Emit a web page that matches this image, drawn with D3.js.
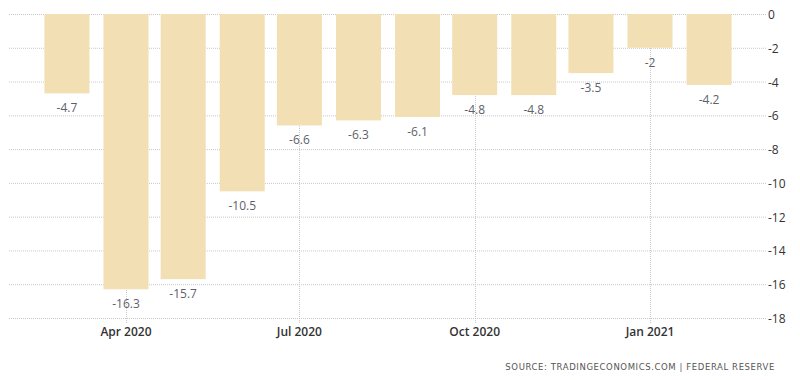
<!DOCTYPE html>
<html><head><meta charset="utf-8">
<script src="https://cdn.jsdelivr.net/npm/d3@7"></script>
<style>body{margin:0;background:#fff}svg{display:block}</style>
</head><body>
<svg id="c" width="800" height="380"></svg>
<script>
const months = ["2020-03","2020-04","2020-05","2020-06","2020-07","2020-08","2020-09","2020-10","2020-11","2020-12","2021-01","2021-02"];
const values = [-4.7,-16.3,-15.7,-10.5,-6.6,-6.3,-6.1,-4.8,-4.8,-3.5,-2,-4.2];
const xTickDates = ["2020-04","2020-07","2020-10","2021-01"];
const xTickLabels = ["Apr 2020","Jul 2020","Oct 2020","Jan 2021"];
const yTicks = [0,-2,-4,-6,-8,-10,-12,-14,-16,-18];
const source = "SOURCE: TRADINGECONOMICS.COM | FEDERAL RESERVE";

const parse = d3.timeParse("%Y-%m");
const svg = d3.select("#c");
const mLeft = 9, mRight = 766, mTop = 14, mBottom = 318;

const x = d3.scaleTime().domain([parse("2020-04"), parse("2021-01")]).range([126, 650]);
const y = d3.scaleLinear().domain([0, -18]).range([mTop, mBottom]);
const barW = 45;

const grid = svg.append("g");
grid.selectAll("line.h").data(yTicks).join("line")
  .attr("x1", mLeft).attr("x2", mRight)
  .attr("y1", d => y(d)+0.5).attr("y2", d => y(d)+0.5)
  .attr("stroke", "#c8c8c8").attr("stroke-dasharray", "1,1");
grid.selectAll("line.v").data(xTickDates).join("line")
  .attr("x1", d => Math.round(x(parse(d)))+0.5).attr("x2", d => Math.round(x(parse(d)))+0.5)
  .attr("y1", mTop).attr("y2", mBottom + 5)
  .attr("stroke", "#c8c8c8").attr("stroke-dasharray", "1,1");

svg.append("g").selectAll("rect").data(values).join("rect")
  .attr("x", (d,i) => x(parse(months[i])) - barW/2)
  .attr("width", barW)
  .attr("y", y(0))
  .attr("height", d => y(d) - y(0))
  .attr("fill", "#f3dfb4");

svg.append("g").selectAll("text").data(values).join("text")
  .attr("x", (d,i) => x(parse(months[i])))
  .attr("y", d => y(d) + 19)
  .attr("text-anchor", "middle")
  .attr("font-family", "Open Sans, sans-serif")
  .attr("font-size", 12)
  .attr("fill", "#5f5f6b")
  .text(d => d);

svg.append("g").selectAll("text").data(yTicks).join("text")
  .attr("x", 768)
  .attr("y", d => y(d) + 5)
  .attr("font-family", "Open Sans, sans-serif")
  .attr("font-size", 12)
  .attr("fill", "#333")
  .text(d => d);

svg.append("g").selectAll("text").data(xTickDates).join("text")
  .attr("x", d => x(parse(d)))
  .attr("y", 336)
  .attr("text-anchor", "middle")
  .attr("font-family", "Open Sans, sans-serif")
  .attr("font-size", 12)
  .attr("font-weight", 600)
  .attr("fill", "#333")
  .text((d,i) => xTickLabels[i]);

svg.append("text")
  .attr("x", 775).attr("y", 370)
  .attr("text-anchor", "end")
  .attr("font-family", "DejaVu Sans, sans-serif")
  .attr("font-size", 8.5)
  .attr("letter-spacing", 0.6)
  .attr("fill", "#555")
  .text(source);
</script>
</body></html>
